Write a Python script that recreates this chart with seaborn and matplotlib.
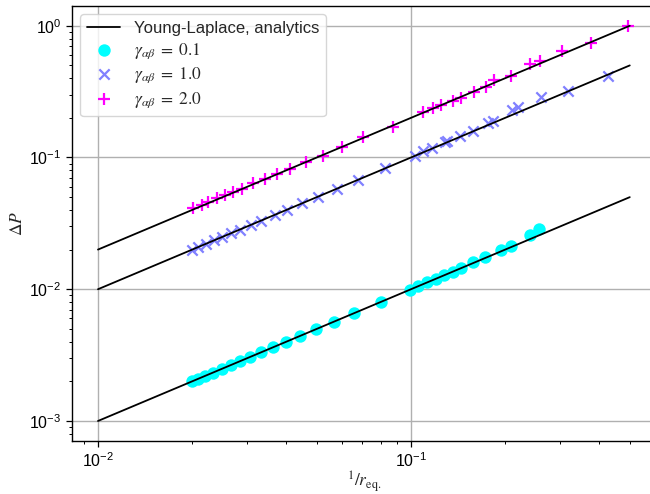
import numpy as np
import pandas as pd
import matplotlib
matplotlib.use("Agg")
import matplotlib.pyplot as plt
import seaborn as sns

# ---------------- data ----------------
line_x = [0.01, 0.5]
line_y_01 = [0.001, 0.05]
line_y_10 = [0.01, 0.5]
line_y_20 = [0.02, 1.0]

x_01 = [0.0200, 0.0209, 0.0220, 0.0233, 0.0249, 0.0266, 0.0284, 0.0306, 0.0332,
        0.0362, 0.0399, 0.0442, 0.0497, 0.0567, 0.0657, 0.0802, 0.0993, 0.1053,
        0.1125, 0.1202, 0.1274, 0.1362, 0.1444, 0.158, 0.172, 0.194, 0.209,
        0.240, 0.256]
y_01 = [0.00200, 0.00209, 0.00220, 0.00233, 0.00249, 0.00266, 0.00284, 0.00306,
        0.00332, 0.00362, 0.00399, 0.00442, 0.00497, 0.00567, 0.00657, 0.00802,
        0.00993, 0.01053, 0.01125, 0.01202, 0.01274, 0.01362, 0.01444, 0.0160,
        0.0175, 0.0199, 0.0214, 0.0256, 0.0287]

x_10 = [0.0200, 0.0209, 0.0222, 0.0235, 0.0249, 0.0266, 0.0284, 0.0308, 0.0332,
        0.0367, 0.0402, 0.0449, 0.0505, 0.0580, 0.0677, 0.0826, 0.1032, 0.1091,
        0.1166, 0.1283, 0.1303, 0.1433, 0.1576, 0.1763, 0.1829, 0.2100, 0.2196,
        0.2596, 0.3185, 0.4276]
y_10 = [0.0200, 0.0209, 0.0222, 0.0235, 0.0249, 0.0266, 0.0284, 0.0308, 0.0332,
        0.0367, 0.0402, 0.0449, 0.0505, 0.0580, 0.0677, 0.0826, 0.1032, 0.1130,
        0.1190, 0.1310, 0.1330, 0.1460, 0.1580, 0.1825, 0.1880, 0.2300, 0.2420,
        0.2870, 0.3220, 0.4150]

x_20 = [0.02011, 0.02149, 0.02246, 0.02400, 0.02545, 0.02699, 0.02884, 0.03127,
        0.03415, 0.03731, 0.04105, 0.04618, 0.05234, 0.06020, 0.07024, 0.08759,
        0.1092, 0.1176, 0.1247, 0.1362, 0.1444, 0.1590, 0.1736, 0.1841, 0.2087,
        0.2400, 0.2583, 0.3037, 0.3759, 0.4934]
y_20 = [0.0415, 0.0437, 0.0461, 0.0494, 0.0521, 0.0549, 0.0578, 0.0642, 0.0689,
        0.0752, 0.0820, 0.0927, 0.1030, 0.1205, 0.1435, 0.1710, 0.2222, 0.2383,
        0.2512, 0.2694, 0.2839, 0.3153, 0.3441, 0.3889, 0.4172, 0.5144, 0.5423,
        0.6457, 0.7428, 1.0000]

labels = ["Young-Laplace, analytics",
          r"$\gamma_{\alpha\beta}\;=\;0.1$",
          r"$\gamma_{\alpha\beta}\;=\;1.0$",
          r"$\gamma_{\alpha\beta}\;=\;2.0$"]
colors = ["#00ffff", "#8080ff", "#ff00ff"]

# ---------------- style ----------------
sns.set_style("ticks")
plt.rcParams["font.family"] = ["Liberation Sans", "DejaVu Sans"]
plt.rcParams["mathtext.fontset"] = "stix"
plt.rcParams["axes.edgecolor"] = "black"
plt.rcParams["xtick.color"] = "black"
plt.rcParams["ytick.color"] = "black"

fig = plt.figure(figsize=(6.5, 4.94), dpi=100)
ax = fig.add_axes([72 / 650, 1 - 441 / 494, 585 / 650, 435 / 494])

# analytic lines
for i, ly in enumerate([line_y_01, line_y_10, line_y_20]):
    df = pd.DataFrame({"x": line_x, "y": ly})
    sns.lineplot(data=df, x="x", y="y", ax=ax, color="black", lw=1.3,
                 label=labels[0] if i == 0 else None, legend=False)

d1 = pd.DataFrame({"x": x_01, "y": y_01})
d2 = pd.DataFrame({"x": x_10, "y": y_10})
d3 = pd.DataFrame({"x": x_20, "y": y_20})
sns.scatterplot(data=d1, x="x", y="y", ax=ax, color=colors[0], marker="o",
                s=80, linewidth=0, label=labels[1], zorder=1)
sns.scatterplot(data=d2, x="x", y="y", ax=ax, color=colors[1], marker="x",
                s=55, linewidth=1.6, label=labels[2], zorder=1)
sns.scatterplot(data=d3, x="x", y="y", ax=ax, color=colors[2], marker="+",
                s=65, linewidth=1.6, label=labels[3], zorder=1)

ax.set_xscale("log")
ax.set_yscale("log")
ax.set_xlim(10 ** -2.083, 10 ** -0.214)
ax.set_ylim(10 ** -3.152, 10 ** 0.15)

ax.grid(True, which="major", color="#b0b0b0", lw=1.0)
ax.set_axisbelow(True)
for s in ax.spines.values():
    s.set_color("black")
    s.set_linewidth(1.0)

ax.tick_params(which="major", direction="out", length=4, width=0.9, labelsize=11.5)
ax.tick_params(which="minor", direction="out", length=2.3, width=0.7)

ax.set_xlabel(r"$^{1}/r_{\mathrm{eq.}}$", fontsize=12.5, labelpad=-1)
ax.set_ylabel(r"$\Delta P$", fontsize=12.5, labelpad=3)

# legend with the line entry first
h, l = ax.get_legend_handles_labels()
order = [l.index(t) for t in labels if t in l]
leg = ax.legend([h[i] for i in order], [l[i] for i in order], loc="upper left",
                fontsize=12, frameon=True, framealpha=0.8, edgecolor="#cccccc",
                borderpad=0.4, handlelength=2.0, labelspacing=0.3)
for t in leg.get_texts()[1:]:
    t.set_fontsize(12.5)

fig.savefig("out.png", dpi=100)
